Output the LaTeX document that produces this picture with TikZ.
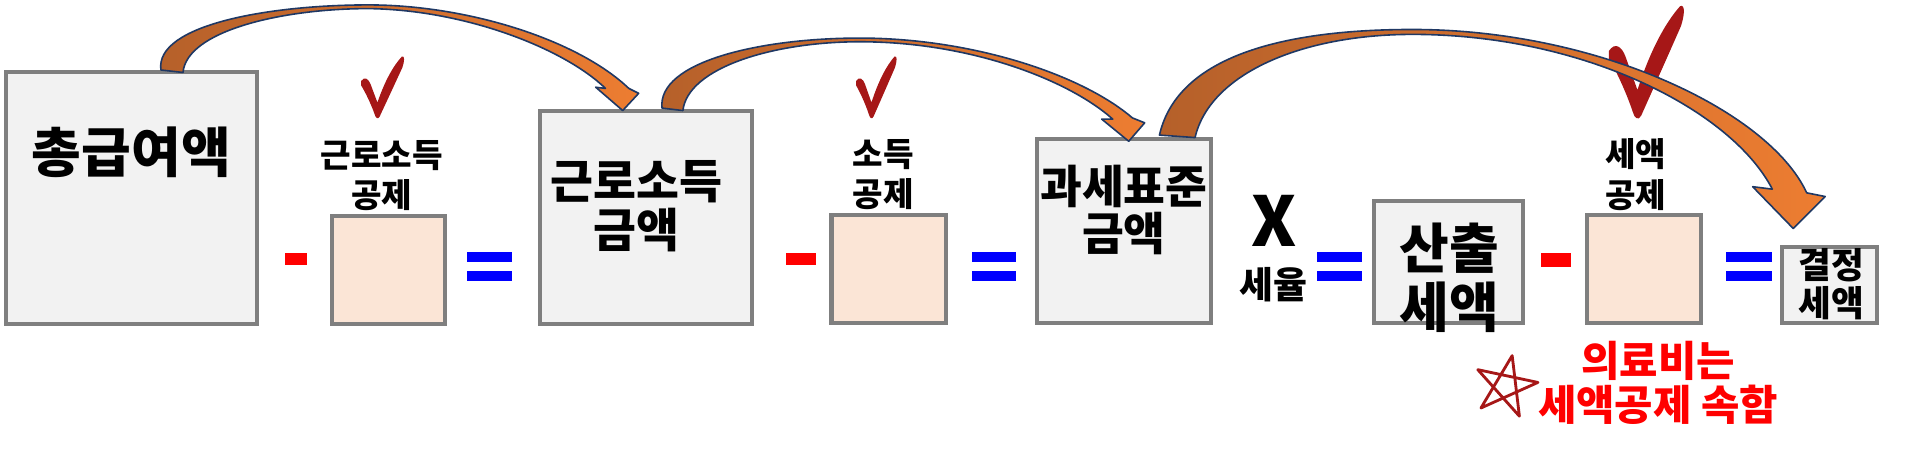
\documentclass[tikz,border=0pt]{standalone}
\usepackage{fontspec}
\setmainfont{Noto Sans CJK KR}[BoldFont={Noto Sans CJK KR Black}]
\definecolor{boxgray}{HTML}{7F7F7F}
\definecolor{boxfill}{HTML}{F2F2F2}
\definecolor{peach}{HTML}{FBE5D6}
\definecolor{chk}{HTML}{A61717}
\definecolor{arrdark}{HTML}{B5602A}
\definecolor{arrlight}{HTML}{ED7D31}
\definecolor{arredge}{HTML}{1F3864}
\newcommand{\fs}[2]{\fontsize{#1}{#2}\selectfont\bfseries}
\tikzset{
  graybox/.style={draw=boxgray,line width=3.3pt,fill=boxfill},
  peachbox/.style={draw=boxgray,line width=3.3pt,fill=peach},
  txt/.style={inner sep=0,align=center},
  bigarrow/.style={draw=arredge,line width=1.3pt,left color=arrdark,right color=arrlight,line join=round},
  checkmark/.style={fill=chk},
}
\newcommand{\checkshape}{%
  \fill[checkmark] (0.0,0.40) .. controls (0.08,0.32) and (0.17,0.36) .. (0.22,0.45)
   -- (0.38,0.75) .. controls (0.55,0.4) and (0.75,0.15) .. (0.95,0.0)
   .. controls (1.02,-0.02) and (1.01,0.08) .. (0.96,0.18)
   .. controls (0.75,0.5) and (0.55,0.8) .. (0.43,0.98)
   .. controls (0.39,1.03) and (0.34,1.0) .. (0.32,0.95)
   .. controls (0.22,0.75) and (0.08,0.56) .. (0.0,0.47) -- cycle;}
\begin{document}
\begin{tikzpicture}[x=1pt,y=-1pt]
\useasboundingbox (0,0) rectangle (1560,367);
% boxes
\path[graybox] (5,59) rectangle (209,264);
\path[peachbox] (270,176) rectangle (362,264);
\path[graybox] (440,90) rectangle (612,264);
\path[peachbox] (677,175) rectangle (770,263);
\path[graybox] (844,113) rectangle (986,263);
\path[graybox] (1119,164) rectangle (1240,263);
\path[peachbox] (1292,175) rectangle (1385,263);
\path[graybox] (1451,201) rectangle (1528,263);
% texts
\node[txt,font=\fs{44}{48}] (t1) at (107,124) {총급여액};
\node[txt,font=\fs{27}{33}] (l1) at (311,143) {근로소득\\공제};
\node[txt,font=\fs{38}{40}] (t3) at (518,168) {근로소득\\금액};
\node[txt,font=\fs{27}{33}] (l2) at (719,142) {소득\\공제};
\node[txt,font=\fs{37}{39}] (t5) at (915,171) {과세표준\\금액};
\node[txt,font=\fs{56}{60}] (x) at (1037,180) {X};
\node[txt,font=\fs{30}{32}] (sr) at (1037,232) {세율};
\node[txt,font=\fs{44}{48}] (t6) at (1180,226) {산출\\세액};
\node[txt,font=\fs{27}{33}] (l3) at (1332,142) {세액\\공제};
\node[txt,font=\fs{29}{31}] (t8) at (1491,231) {결정\\세액};
\node[txt,text=red,font=\fs{34}{36}] (note) at (1350,312) {의료비는\\세액공제 속함};
% operators
\fill[red] (232,206) rectangle (250,216);
\fill[red] (640,206) rectangle (664,216);
\fill[red] (1255,206) rectangle (1279,217);
\foreach \a/\b in {380/417,791/827,1072/1109,1405/1443}{
  \fill[blue] (\a,205) rectangle (\b,213);
  \fill[blue] (\a,221) rectangle (\b,229);
}
% checks
\begin{scope}[shift={(294,46)},xscale=35,yscale=50]\checkshape\end{scope}
\begin{scope}[shift={(697,46)},xscale=33,yscale=50]\checkshape\end{scope}
\begin{scope}[shift={(1310,5)},xscale=61,yscale=91]\checkshape\end{scope}
% star
\draw[chk,line width=2.3pt,line join=round,rotate around={-12:(1226,314)}]
  (1226,289) -- (1242,336) -- (1201,306) -- (1251,306) -- (1210,336) -- cycle;
% arrows
\path[bigarrow] (131,57) .. controls (126,20) and (220,4) .. (300,4)
   .. controls (380,4) and (470,32) .. (512,72) -- (520,76) -- (507,90) -- (485,71) -- (493,72)
   .. controls (460,40) and (380,8) .. (300,7) .. controls (230,7) and (152,25) .. (149,59) -- cycle;
\path[bigarrow] (539,88) .. controls (535,50) and (620,31) .. (700,31)
   .. controls (790,31) and (880,60) .. (922,96) -- (932,100) -- (919,115) -- (897,97) -- (906,97)
   .. controls (870,65) and (790,34) .. (700,34) .. controls (630,34) and (560,55) .. (556,90) -- cycle;
\path[bigarrow] (944,110) .. controls (960,40) and (1060,24) .. (1150,24)
   .. controls (1300,24) and (1440,90) .. (1471,157) -- (1486,160) -- (1460,186) -- (1427,152) -- (1443,154)
   .. controls (1410,90) and (1290,28) .. (1150,28) .. controls (1060,28) and (985,60) .. (973,112) -- cycle;
\end{tikzpicture}
\end{document}
